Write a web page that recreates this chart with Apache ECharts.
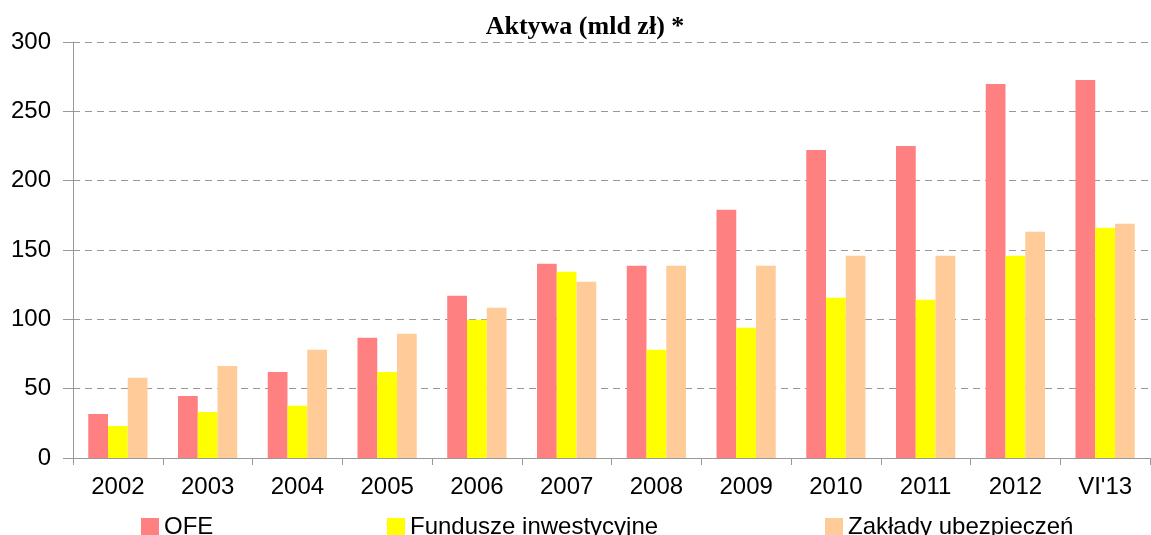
<!DOCTYPE html>
<html>
<head>
<meta charset="utf-8">
<script src="https://cdn.jsdelivr.net/npm/echarts@6/dist/echarts.min.js"></script>
<style>
	html, body { margin: 0; padding: 0; background: #fff; }
	#chart { width: 1151px; height: 535px; }
</style>
</head>
<body>
<div id="chart"></div>
<script>
var years = ['2002', '2003', '2004', '2005', '2006', '2007', '2008', '2009', '2010', '2011', '2012', "VI'13"];
var ofe = [31.8, 44.8, 62.1, 86.7, 117.0, 140.1, 138.7, 179.1, 222.1, 225.0, 269.7, 272.6];
var fundusze = [23.1, 33.2, 37.6, 62.1, 99.7, 134.3, 78.0, 93.9, 115.6, 114.1, 145.9, 166.1];
var zaklady = [57.8, 66.4, 78.0, 89.6, 108.3, 127.1, 138.7, 138.7, 145.9, 145.9, 163.2, 169.0];
var yTicks = [0, 50, 100, 150, 200, 250, 300];

var myChart = echarts.init(document.getElementById('chart'));

var txt = { fontFamily: 'Liberation Sans', fontSize: 24, color: '#000' };

function legendAt(name, left) {
	return {
		data: [name],
		left: left,
		top: 515,
		itemWidth: 18,
		itemHeight: 18,
		icon: 'rect',
		padding: 0,
		textStyle: txt
	};
}

option = {
	animation: false,
	title: {
		text: 'Aktywa (mld zł) *',
		left: 580,
		textAlign: 'center',
		top: 9,
		textStyle: {
			fontFamily: 'Liberation Serif',
			fontWeight: 'bold',
			fontSize: 26,
			color: '#000'
		}
	},
	legend: [
		legendAt('OFE', 141),
		legendAt('Fundusze inwestycyjne', 387),
		legendAt('Zakłady ubezpieczeń', 825)
	],
	grid: {
		left: 73,
		right: 1,
		top: 42,
		bottom: 77,
		containLabel: false
	},
	xAxis: {
		type: 'category',
		data: years,
		axisLine: { lineStyle: { color: '#999', width: 1 } },
		axisTick: { show: true, length: 7, lineStyle: { color: '#999' } },
		axisLabel: Object.assign({ margin: 17 }, txt)
	},
	yAxis: {
		type: 'value',
		min: yTicks[0],
		max: yTicks[yTicks.length - 1],
		interval: 50,
		axisLine: { show: true, lineStyle: { color: '#999', width: 1 } },
		axisTick: { show: true, length: 10, lineStyle: { color: '#999' } },
		axisLabel: Object.assign({ margin: 22 }, txt),
		splitLine: { lineStyle: { color: '#999', type: [7, 5], width: 1 } }
	},
	series: [{
			name: 'OFE',
			type: 'bar',
			data: ofe,
			barGap: '0%',
			barCategoryGap: '34%',
			itemStyle: { color: '#FF8080' }
		},
		{
			name: 'Fundusze inwestycyjne',
			type: 'bar',
			data: fundusze,
			itemStyle: { color: '#FFFF00' }
		},
		{
			name: 'Zakłady ubezpieczeń',
			type: 'bar',
			data: zaklady,
			itemStyle: { color: '#FFCC99' }
		}
	]
};

myChart.setOption(option);
</script>
</body>
</html>
